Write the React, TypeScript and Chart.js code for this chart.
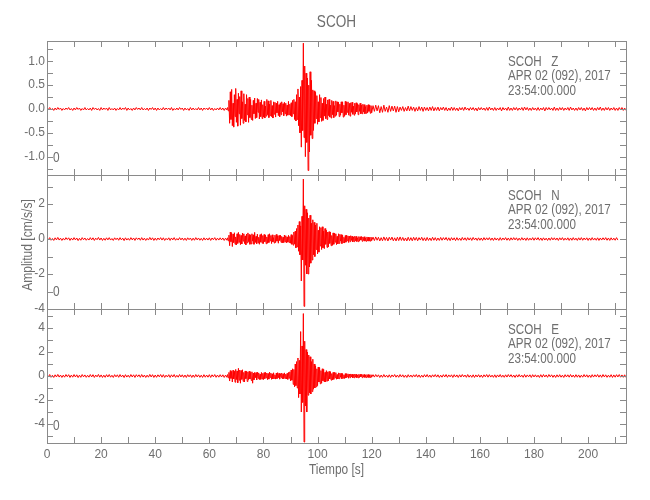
import React, { useEffect, useRef } from 'react';
import { Chart, registerables } from 'chart.js';

Chart.register(...registerables);

// ---------- text ----------
const TITLE = 'SCOH';
const X_TITLE = 'Tiempo [s]';
const Y_TITLE = 'Amplitud [cm/s/s]';
const STATION = 'SCOH';
const COMPONENTS = ['Z', 'N', 'E'];
const DATE_LINE = 'APR 02 (092), 2017';
const TIME_LINE = '23:54:00.000';
const CORNER_MARK = '0';

// ---------- sampling (seconds) ----------
const X_MIN = 0;
const X_MAX = 214;
const X_TICK_STEP = 10;
const X_LABEL_EVERY = 20;
const PRE_START = 0;
const PRE_STEP = 0.5;
const EVENT_START = 66.75;
const EVENT_STEP = 0.25;
const CODA_START = 120.5;
const CODA_STEP = 0.5;

// ---------- Z component (cm/s/s) ----------
const Z_PRE = [
  0.02, -0.01, 0.03, -0.02, 0.01, -0.03, 0.02, -0.02, 0.03, -0.01,
  0.02, -0.03, 0.01, -0.02, 0.02, -0.01, 0.03, -0.02, 0.01, -0.03,
  0.02, -0.02, 0.03, -0.01, 0.02, -0.03, 0.01, -0.02, 0.03, -0.02,
  0.01, -0.02, 0.02, -0.03, 0.03, -0.01, 0.02, -0.02, 0.01, -0.03,
  0.03, -0.02, 0.02, -0.01, 0.02, -0.03, 0.03, -0.02, 0.01, -0.02,
  0.02, -0.03, 0.01, -0.02, 0.03, -0.02, 0.02, -0.01, 0.03, -0.03,
  0.02, -0.02, 0.01, -0.03, 0.02, -0.02, 0.03, -0.01, 0.02, -0.02,
  0.03, -0.02, 0.01, -0.02, 0.02, -0.03, 0.02, -0.01, 0.03, -0.02,
  0.02, -0.03, 0.02, -0.02, 0.01, -0.02, 0.03, -0.02, 0.02, -0.01,
  0.02, -0.02, 0.03, -0.03, 0.01, -0.02, 0.02, -0.02, 0.03, -0.01,
  0.02, -0.03, 0.02, -0.02, 0.01, -0.03, 0.03, -0.02, 0.02, -0.02,
  0.01, -0.02, 0.03, -0.02, 0.02, -0.03, 0.02, -0.01, 0.02, -0.02,
  0.03, -0.02, 0.02, -0.03, 0.01, -0.02, 0.02, -0.02, 0.03, -0.02,
  0.02, -0.03, 0.02, -0.02,
];
const Z_EVENT = [
  0.03, -0.04,
  0.18, -0.3, 0.36, -0.22, 0.41, -0.35, 0.12, -0.38, 0.3, -0.16,
  0.43, -0.28, 0.2, -0.36, 0.33, -0.1, 0.26, -0.34, 0.38, -0.2,
  0.15, -0.3, 0.32, -0.24, 0.1, -0.27, 0.3, -0.12, 0.22, -0.28, 0.25, -0.18,
  0.2, -0.22, 0.08, -0.24, 0.18, -0.1, 0.23, -0.2, 0.12, -0.18,
  0.22, -0.07, 0.2, -0.21, 0.14, -0.16, 0.19, -0.2, 0.09, -0.17,
  0.16, -0.19, 0.06, -0.15, 0.2, -0.12, 0.17, -0.18, 0.1, -0.14,
  0.18, -0.16, 0.07, -0.19, 0.15, -0.11, 0.14, -0.17, 0.12, -0.08,
  0.16, -0.14, 0.09, -0.16, 0.13, -0.12, 0.15, -0.06, 0.11, -0.14,
  0.14, -0.1, 0.12, -0.15, 0.08, -0.13, 0.16, -0.12, 0.1, -0.14,
  0.13, -0.16, 0.18, -0.1, 0.2, -0.22, 0.15, -0.25,
  0.3, -0.22, 0.42, -0.35, 0.25, -0.5, 0.47, -0.8, 0.6, -0.45,
  1.38, -0.6, 0.9, -1.0, 0.75, -0.7, 0.65, -1.29, 0.5, -0.9,
  0.78, -0.55, 0.6, -0.62, 0.4, -0.45, 0.38, -0.3,
  0.35, -0.2, 0.28, -0.32, 0.15, -0.27, 0.3, -0.18, 0.24, -0.26,
  0.12, -0.24, 0.22, -0.15, 0.25, -0.2, 0.1, -0.22, 0.19, -0.14,
  0.2, -0.17, 0.08, -0.19, 0.18, -0.12, 0.16, -0.18, 0.07, -0.15,
  0.17, -0.13, 0.15, -0.06, 0.14, -0.16, 0.1, -0.13, 0.15, -0.08,
  0.15, -0.17, 0.08, -0.15, 0.16, -0.12, 0.14, -0.07, 0.15, -0.13,
  0.12, -0.15, 0.13, -0.07, 0.14, -0.11, 0.06, -0.13, 0.12, -0.1,
  0.13, -0.06, 0.11, -0.12, 0.09, -0.05, 0.12, -0.1, 0.08, -0.1,
  0.1, -0.06, 0.09, -0.1, 0.05, -0.09, 0.08, -0.08, 0.09, -0.05,
  0.08, -0.09, 0.07, -0.08,
];
const Z_CODA = [
  0.07, -0.05, 0.08, -0.04, 0.07, -0.08, 0.05, -0.07, 0.08, -0.05,
  0.04, -0.07, 0.07, -0.05, 0.06, -0.04, 0.06, -0.07, 0.05, -0.06,
  0.04, -0.03, 0.05, -0.05, 0.03, -0.04, 0.06, -0.04, 0.05, -0.03,
  0.04, -0.05, 0.03, -0.04, 0.05, -0.03, 0.04, -0.05, 0.04, -0.03,
  0.03, -0.04, 0.04, -0.03, 0.05, -0.04, 0.03, -0.03, 0.04, -0.04,
  0.03, -0.02, 0.04, -0.03, 0.03, -0.04, 0.02, -0.03, 0.04, -0.03,
  0.03, -0.03, 0.02, -0.04, 0.03, -0.02, 0.03, -0.03, 0.04, -0.02,
  0.02, -0.03, 0.03, -0.02, 0.03, -0.03, 0.02, -0.04, 0.03, -0.02,
  0.03, -0.02, 0.02, -0.03, 0.03, -0.03, 0.04, -0.02, 0.02, -0.03,
  0.03, -0.03, 0.02, -0.02, 0.03, -0.04, 0.03, -0.02, 0.02, -0.03,
  0.04, -0.03, 0.02, -0.03, 0.03, -0.02, 0.03, -0.03, 0.02, -0.02,
  0.03, -0.03, 0.04, -0.02, 0.03, -0.03, 0.02, -0.03, 0.03, -0.02,
  0.02, -0.03, 0.03, -0.03, 0.02, -0.02, 0.03, -0.04, 0.03, -0.02,
  0.03, -0.02, 0.02, -0.03, 0.04, -0.03, 0.02, -0.03, 0.03, -0.02,
  0.03, -0.03, 0.02, -0.02, 0.03, -0.03, 0.04, -0.02, 0.02, -0.03,
  0.02, -0.03, 0.03, -0.02, 0.03, -0.03, 0.02, -0.04, 0.03, -0.02,
  0.03, -0.02, 0.03, -0.03, 0.02, -0.03, 0.03, -0.02, 0.04, -0.03,
  0.02, -0.03, 0.03, -0.02, 0.03, -0.03, 0.02, -0.02, 0.03, -0.03,
  0.02, -0.03, 0.03, -0.02, 0.03, -0.03, 0.02, -0.03,
];

// ---------- N component (cm/s/s) ----------
const N_PRE = [
  0.06, -0.04, 0.08, -0.07, 0.03, -0.08, 0.07, -0.05, 0.09, -0.06,
  0.05, -0.08, 0.04, -0.06, 0.08, -0.03, 0.07, -0.08, 0.05, -0.06,
  0.08, -0.05, 0.06, -0.09, 0.04, -0.07, 0.08, -0.04, 0.06, -0.07,
  0.03, -0.06, 0.08, -0.05, 0.07, -0.08, 0.05, -0.04, 0.09, -0.06,
  0.06, -0.08, 0.04, -0.07, 0.07, -0.05, 0.08, -0.06, 0.03, -0.08,
  0.07, -0.04, 0.06, -0.07, 0.08, -0.05, 0.05, -0.09, 0.07, -0.06,
  0.04, -0.07, 0.08, -0.05, 0.06, -0.08, 0.07, -0.03, 0.06, -0.07,
  0.08, -0.06, 0.05, -0.08, 0.04, -0.06, 0.09, -0.05, 0.07, -0.08,
  0.05, -0.07, 0.06, -0.04, 0.08, -0.06, 0.07, -0.08, 0.04, -0.05,
  0.07, -0.08, 0.06, -0.05, 0.08, -0.07, 0.03, -0.06, 0.08, -0.05,
  0.06, -0.07, 0.05, -0.08, 0.07, -0.04, 0.06, -0.08, 0.05, -0.07,
  0.08, -0.05, 0.06, -0.07, 0.04, -0.08, 0.07, -0.06, 0.05, -0.06,
  0.07, -0.08, 0.06, -0.04, 0.08, -0.07, 0.05, -0.06, 0.07, -0.05,
  0.06, -0.08, 0.05, -0.07,
];
const N_EVENT = [
  0.07, -0.1,
  0.22, -0.38, 0.4, -0.15, 0.33, -0.43, 0.28, -0.2, 0.36, -0.3,
  0.12, -0.34, 0.3, -0.25, 0.38, -0.18, 0.26, -0.32, 0.2, -0.28,
  0.34, -0.12, 0.3, -0.26, 0.18, -0.33, 0.28, -0.22, 0.35, -0.15, 0.26, -0.3,
  0.22, -0.28, 0.3, -0.12, 0.24, -0.3, 0.38, -0.2, 0.15, -0.27,
  0.28, -0.22, 0.1, -0.3, 0.25, -0.18, 0.3, -0.24, 0.2, -0.26,
  0.26, -0.15, 0.22, -0.27, 0.12, -0.24, 0.25, -0.2, 0.3, -0.1,
  0.2, -0.26, 0.24, -0.16, 0.08, -0.23, 0.22, -0.2, 0.26, -0.12,
  0.18, -0.24, 0.2, -0.08, 0.22, -0.19, 0.15, -0.22, 0.1, -0.2,
  0.23, -0.16, 0.19, -0.22, 0.12, -0.18, 0.21, -0.2, 0.14, -0.24,
  0.25, -0.3, 0.2, -0.35, 0.4, -0.28, 0.45, -0.5,
  0.6, -0.45, 0.8, -0.7, 1.0, -0.9, 0.75, -2.4, 1.3, -1.2,
  3.43, -3.85, 1.9, -1.5, 1.7, -2.0, 1.5, -2.0, 1.2, -1.6,
  1.36, -1.38, 0.9, -1.2, 1.1, -0.9, 0.95, -1.0,
  0.8, -0.6, 0.9, -0.85, 0.5, -0.75, 0.7, -0.4, 0.65, -0.6,
  0.7, -0.5, 0.45, -0.55, 0.6, -0.3, 0.5, -0.48, 0.4, -0.45,
  0.42, -0.25, 0.4, -0.38, 0.2, -0.36, 0.35, -0.3, 0.33, -0.18,
  0.3, -0.32, 0.15, -0.28, 0.3, -0.25, 0.27, -0.12, 0.25, -0.26,
  0.22, -0.2, 0.1, -0.23, 0.2, -0.18, 0.22, -0.1, 0.18, -0.2,
  0.17, -0.15, 0.19, -0.08, 0.16, -0.17, 0.12, -0.15, 0.16, -0.1,
  0.15, -0.14, 0.07, -0.15, 0.14, -0.12, 0.13, -0.06, 0.14, -0.13,
  0.12, -0.08, 0.13, -0.12, 0.06, -0.13, 0.12, -0.1, 0.11, -0.12,
  0.08, -0.12, 0.11, -0.09,
];
const N_CODA = [
  0.11, -0.09, 0.12, -0.07, 0.1, -0.11, 0.08, -0.1, 0.12, -0.08,
  0.09, -0.11, 0.1, -0.06, 0.11, -0.1, 0.07, -0.11, 0.1, -0.09,
  0.12, -0.08, 0.09, -0.1, 0.06, -0.11, 0.1, -0.09, 0.08, -0.1,
  0.1, -0.07, 0.09, -0.1, 0.08, -0.06, 0.1, -0.09, 0.07, -0.1,
  0.09, -0.08, 0.06, -0.09, 0.1, -0.07, 0.08, -0.09, 0.06, -0.08,
  0.09, -0.07, 0.08, -0.05, 0.09, -0.08, 0.07, -0.09, 0.08, -0.06,
  0.07, -0.09, 0.08, -0.07, 0.05, -0.08, 0.09, -0.06, 0.07, -0.08,
  0.08, -0.06, 0.07, -0.08, 0.09, -0.05, 0.06, -0.08, 0.07, -0.07,
  0.06, -0.08, 0.08, -0.06, 0.07, -0.05, 0.08, -0.07, 0.06, -0.08,
  0.07, -0.06, 0.05, -0.08, 0.08, -0.07, 0.06, -0.05, 0.08, -0.07,
  0.06, -0.08, 0.07, -0.06, 0.08, -0.05, 0.07, -0.08, 0.05, -0.07,
  0.08, -0.06, 0.06, -0.08, 0.07, -0.07, 0.05, -0.06, 0.08, -0.07,
  0.07, -0.05, 0.08, -0.07, 0.06, -0.08, 0.07, -0.06, 0.05, -0.08,
  0.06, -0.07, 0.08, -0.05, 0.07, -0.06, 0.06, -0.08, 0.07, -0.05,
  0.08, -0.07, 0.05, -0.06, 0.07, -0.08, 0.06, -0.07, 0.08, -0.06,
  0.05, -0.08, 0.07, -0.06, 0.08, -0.07, 0.06, -0.05, 0.07, -0.08,
  0.06, -0.07, 0.08, -0.06, 0.05, -0.07, 0.07, -0.08, 0.06, -0.06,
  0.07, -0.05, 0.08, -0.07, 0.06, -0.08, 0.07, -0.06, 0.05, -0.07,
  0.08, -0.06,
];

// ---------- E component (cm/s/s) ----------
const E_PRE = [
  0.1, -0.07, 0.12, -0.11, 0.06, -0.12, 0.1, -0.08, 0.13, -0.09,
  0.08, -0.12, 0.07, -0.1, 0.12, -0.06, 0.11, -0.12, 0.08, -0.1,
  0.12, -0.08, 0.1, -0.13, 0.07, -0.11, 0.12, -0.07, 0.09, -0.11,
  0.06, -0.1, 0.12, -0.08, 0.11, -0.12, 0.08, -0.07, 0.13, -0.1,
  0.09, -0.12, 0.07, -0.11, 0.11, -0.08, 0.12, -0.1, 0.06, -0.12,
  0.11, -0.07, 0.1, -0.11, 0.12, -0.08, 0.08, -0.13, 0.11, -0.09,
  0.07, -0.11, 0.12, -0.08, 0.1, -0.12, 0.11, -0.06, 0.1, -0.11,
  0.12, -0.09, 0.08, -0.12, 0.07, -0.1, 0.13, -0.08, 0.11, -0.12,
  0.08, -0.11, 0.1, -0.07, 0.12, -0.1, 0.11, -0.12, 0.07, -0.08,
  0.11, -0.12, 0.1, -0.08, 0.12, -0.11, 0.06, -0.1, 0.12, -0.08,
  0.1, -0.11, 0.08, -0.12, 0.11, -0.07, 0.1, -0.12, 0.08, -0.11,
  0.12, -0.08, 0.1, -0.11, 0.07, -0.12, 0.11, -0.1, 0.08, -0.1,
  0.11, -0.12, 0.1, -0.07, 0.12, -0.11, 0.08, -0.1, 0.11, -0.08,
  0.1, -0.12, 0.08, -0.11,
];
const E_EVENT = [
  0.12, -0.15,
  0.3, -0.42, 0.45, -0.2, 0.38, -0.5, 0.48, -0.25, 0.4, -0.52,
  0.55, -0.3, 0.42, -0.56, 0.64, -0.35, 0.5, -0.6, 0.45, -0.28,
  0.52, -0.45, 0.3, -0.5, 0.42, -0.22, 0.38, -0.46, 0.35, -0.3, 0.4, -0.25,
  0.3, -0.38, 0.35, -0.6, 0.25, -0.32, 0.3, -0.15, 0.28, -0.33,
  0.32, -0.2, 0.26, -0.3, 0.15, -0.28, 0.3, -0.25, 0.22, -0.3,
  0.28, -0.22, 0.3, -0.15, 0.25, -0.3, 0.2, -0.26, 0.32, -0.12,
  0.24, -0.28, 0.18, -0.25, 0.27, -0.2, 0.1, -0.26, 0.25, -0.22,
  0.28, -0.15, 0.22, -0.26, 0.2, -0.12, 0.25, -0.24, 0.18, -0.22,
  0.26, -0.2, 0.15, -0.25, 0.22, -0.28, 0.3, -0.18, 0.35, -0.4,
  0.5, -0.35, 0.6, -0.7, 0.55, -0.9, 1.0, -0.8,
  1.2, -1.0, 1.5, -1.8, 1.3, -1.5, 3.7, -3.0, 2.5, -2.2,
  5.2, -5.5, 2.9, -2.5, 2.2, -3.0, 2.0, -1.6, 1.75, -1.4,
  1.6, -1.5, 1.2, -1.3, 1.4, -1.1, 1.0, -1.0,
  0.85, -0.9, 0.6, -0.8, 0.75, -0.5, 0.7, -0.65, 0.45, -0.6,
  0.6, -0.4, 0.55, -0.5, 0.3, -0.48, 0.45, -0.42, 0.35, -0.4,
  0.38, -0.25, 0.36, -0.35, 0.2, -0.33, 0.3, -0.28, 0.3, -0.15,
  0.28, -0.27, 0.12, -0.25, 0.26, -0.22, 0.24, -0.1, 0.22, -0.23,
  0.2, -0.18, 0.1, -0.21, 0.2, -0.16, 0.19, -0.08, 0.18, -0.19,
  0.16, -0.14, 0.17, -0.08, 0.15, -0.16, 0.12, -0.15, 0.16, -0.1,
  0.15, -0.14, 0.08, -0.15, 0.14, -0.12, 0.14, -0.07, 0.13, -0.14,
  0.12, -0.09, 0.13, -0.12, 0.07, -0.13, 0.12, -0.1, 0.12, -0.13,
  0.09, -0.12, 0.11, -0.1,
];
const E_CODA = [
  0.11, -0.09, 0.12, -0.07, 0.1, -0.12, 0.08, -0.11, 0.12, -0.09,
  0.07, -0.11, 0.1, -0.12, 0.09, -0.07, 0.12, -0.1, 0.08, -0.11,
  0.12, -0.08, 0.1, -0.11, 0.07, -0.12, 0.11, -0.09, 0.08, -0.1,
  0.1, -0.07, 0.12, -0.1, 0.09, -0.12, 0.07, -0.1, 0.11, -0.08,
  0.12, -0.1, 0.08, -0.11, 0.1, -0.07, 0.12, -0.09, 0.1, -0.12,
  0.07, -0.1, 0.11, -0.08, 0.12, -0.11, 0.09, -0.07, 0.1, -0.12,
  0.11, -0.08, 0.09, -0.12, 0.1, -0.09, 0.12, -0.07, 0.08, -0.11,
  0.12, -0.1, 0.07, -0.11, 0.1, -0.12, 0.09, -0.08, 0.11, -0.1,
  0.08, -0.12, 0.1, -0.07, 0.12, -0.1, 0.11, -0.09, 0.07, -0.11,
  0.1, -0.12, 0.09, -0.08, 0.12, -0.1, 0.07, -0.11, 0.1, -0.09,
  0.12, -0.07, 0.11, -0.1, 0.08, -0.12, 0.1, -0.09, 0.12, -0.08,
  0.07, -0.11, 0.12, -0.1, 0.09, -0.07, 0.1, -0.12, 0.11, -0.08,
  0.1, -0.09, 0.07, -0.12, 0.11, -0.1, 0.12, -0.08, 0.09, -0.11,
  0.12, -0.07, 0.1, -0.11, 0.08, -0.12, 0.1, -0.09, 0.11, -0.1,
  0.07, -0.12, 0.11, -0.08, 0.1, -0.1, 0.12, -0.09, 0.08, -0.11,
  0.11, -0.1, 0.09, -0.12, 0.07, -0.1, 0.12, -0.08, 0.1, -0.11,
  0.08, -0.12, 0.11, -0.09, 0.1, -0.07, 0.12, -0.1, 0.09, -0.11,
  0.12, -0.08, 0.1, -0.11, 0.07, -0.1, 0.11, -0.12, 0.09, -0.1,
  0.11, -0.08, 0.12, -0.1, 0.09, -0.11, 0.1, -0.12,
];

// ---------- y-axis ranges / ticks ----------
const Y_MINS = [-1.384, -4, -5.58];
const Y_MAXS = [1.425, 3.66, 5.58];
const Y_TICK_STEPS = [0.25, 1, 1];
const Y_LABEL_EVERY = [0.5, 2, 2];
const Y_DECIMALS = [1, 0, 0];

// ---------- layout / style ----------
const W = 650;
const H = 500;
const PLOT_LEFT = 47;
const PLOT_RIGHT = 626;
const PANEL_TOPS = [41, 175, 309];
const PANEL_BOTTOMS = [175, 309, 443];
const X_AXIS_H = 30;
const TICK_LEN = 6;
const INFO_X = 508;
const INFO_DY = [21, 35.5, 50];
const FONT = "'Liberation Sans', Arial, sans-serif";
const TEXT_COLOR = '#6e6e6e';
const AXIS_COLOR = '#8a8a8a';
const TRACE_COLOR = '#ff0000';

const SERIES = [
  [Z_PRE, Z_EVENT, Z_CODA],
  [N_PRE, N_EVENT, N_CODA],
  [E_PRE, E_EVENT, E_CODA],
];

function toPoints(pre: number[], ev: number[], coda: number[]) {
  const pts: { x: number; y: number }[] = [];
  pre.forEach((v, i) => pts.push({ x: PRE_START + i * PRE_STEP, y: v }));
  ev.forEach((v, i) => pts.push({ x: EVENT_START + i * EVENT_STEP, y: v }));
  coda.forEach((v, i) => pts.push({ x: CODA_START + i * CODA_STEP, y: v }));
  return pts;
}

const isMultiple = (v: number, m: number) => Math.abs(v / m - Math.round(v / m)) < 1e-6;

function narrowText(ctx: any, text: string, x: number, y: number, size: number, sx: number, align: string, rot = 0) {
  ctx.save();
  ctx.translate(x, y);
  if (rot) ctx.rotate(rot);
  ctx.scale(sx, 1);
  ctx.font = `${size}px ${FONT}`;
  ctx.textAlign = align;
  ctx.textBaseline = 'middle';
  ctx.fillText(text, 0, 0);
  ctx.restore();
}

const framePlugin = {
  id: 'seisFrame',
  afterDraw(chart: any, _args: any, opts: any) {
    const { ctx, chartArea } = chart;
    const { left, right, top, bottom } = chartArea;
    const xs = chart.scales.x;
    const ys = chart.scales.y;
    ctx.save();
    ctx.strokeStyle = AXIS_COLOR;
    ctx.lineWidth = 1;
    ctx.strokeRect(left + 0.5, top + 0.5, right - left, bottom - top);
    ctx.beginPath();
    xs.ticks.forEach((t: any) => {
      const px = Math.round(xs.getPixelForValue(t.value)) + 0.5;
      if (px <= left + 1 || px >= right - 1) return;
      ctx.moveTo(px, top);
      ctx.lineTo(px, top + TICK_LEN);
      ctx.moveTo(px, bottom);
      ctx.lineTo(px, bottom - TICK_LEN);
    });
    ys.ticks.forEach((t: any) => {
      const py = Math.round(ys.getPixelForValue(t.value)) + 0.5;
      if (py <= top + 1 || py >= bottom - 1) return;
      ctx.moveTo(left, py);
      ctx.lineTo(left + TICK_LEN, py);
      ctx.moveTo(right, py);
      ctx.lineTo(right - TICK_LEN, py);
    });
    ctx.stroke();

    ctx.fillStyle = TEXT_COLOR;
    const lines = [`${STATION}   ${opts.component}`, DATE_LINE, TIME_LINE];
    lines.forEach((l, k) => narrowText(ctx, l, INFO_X, top + INFO_DY[k], 14, 0.83, 'left'));
    narrowText(ctx, CORNER_MARK, left + 6, bottom - 17, 14, 0.85, 'left');

    if (opts.index === 0) {
      narrowText(ctx, TITLE, (left + right) / 2, 22, 17, 0.8, 'center');
    }
    if (opts.index === 1) {
      narrowText(ctx, Y_TITLE, 28, (top + bottom) / 2 + 3, 14, 0.86, 'center', -Math.PI / 2);
    }
    if (opts.index === 2) {
      narrowText(ctx, X_TITLE, (left + right) / 2, 470, 14, 0.85, 'center');
    }
    ctx.restore();
  },
};

function PanelChart({ index }: { index: number }) {
  const ref = useRef<HTMLCanvasElement | null>(null);
  useEffect(() => {
    if (!ref.current) return;
    const isBottom = index === 2;
    const [pre, ev, coda] = SERIES[index];
    const chart = new Chart(ref.current, {
      type: 'line',
      data: {
        datasets: [
          {
            data: toPoints(pre, ev, coda),
            borderColor: TRACE_COLOR,
            borderWidth: 1,
            pointRadius: 0,
            tension: 0,
            fill: false,
          },
        ],
      },
      options: {
        animation: false,
        responsive: false,
        maintainAspectRatio: false,
        events: [],
        layout: {
          padding: {
            left: 0,
            right: W - PLOT_RIGHT,
            top: PANEL_TOPS[index],
            bottom: H - PANEL_BOTTOMS[index] - (isBottom ? X_AXIS_H : 0),
          },
        },
        plugins: {
          legend: { display: false },
          tooltip: { enabled: false },
          title: { display: false },
          seisFrame: { index, component: COMPONENTS[index] },
        } as any,
        scales: {
          x: {
            type: 'linear',
            min: X_MIN,
            max: X_MAX,
            grid: { display: false, drawTicks: false, tickLength: 0 },
            border: { display: false },
            ticks: {
              display: isBottom,
              stepSize: X_TICK_STEP,
              includeBounds: false,
              autoSkip: false,
              maxRotation: 0,
              padding: 4,
              color: TEXT_COLOR,
              font: { family: FONT, size: 12 },
              callback: (v: any) => (isMultiple(Number(v), X_LABEL_EVERY) ? String(v) : ''),
            },
            afterFit: (s: any) => {
              s.height = isBottom ? X_AXIS_H : 0;
            },
          },
          y: {
            type: 'linear',
            min: Y_MINS[index],
            max: Y_MAXS[index],
            grid: { display: false, drawTicks: false, tickLength: 0 },
            border: { display: false },
            ticks: {
              stepSize: Y_TICK_STEPS[index],
              includeBounds: false,
              autoSkip: false,
              padding: 2,
              color: TEXT_COLOR,
              font: { family: FONT, size: 12 },
              callback: (v: any) => {
                const n = Number(v);
                if (!isMultiple(n, Y_LABEL_EVERY[index])) return '';
                const r = Math.abs(n) < 1e-9 ? 0 : n;
                return r.toFixed(Y_DECIMALS[index]);
              },
            },
            afterFit: (s: any) => {
              s.width = PLOT_LEFT;
            },
          },
        },
      } as any,
      plugins: [framePlugin],
    });
    return () => chart.destroy();
  }, [index]);
  return (
    <canvas
      ref={ref}
      width={W}
      height={H}
      style={{ position: 'absolute', left: 0, top: 0, width: W, height: H }}
    />
  );
}

export default function App() {
  return (
    <div style={{ position: 'absolute', left: 0, top: 0, width: W, height: H, background: '#ffffff' }}>
      {[0, 1, 2].map((i) => (
        <PanelChart key={i} index={i} />
      ))}
    </div>
  );
}
